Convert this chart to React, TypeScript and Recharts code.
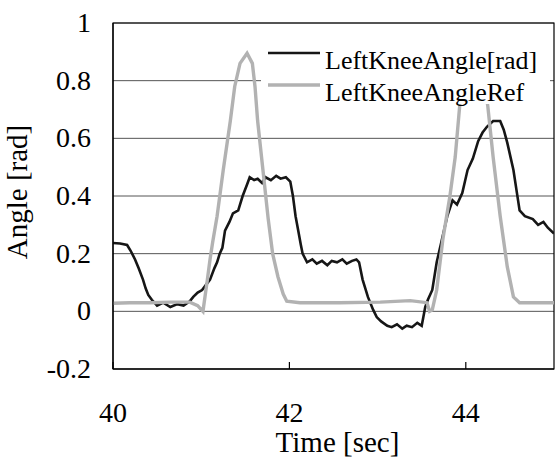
import {
  LineChart,
  Line,
  XAxis,
  YAxis,
  CartesianGrid,
  Legend,
  ReferenceArea,
  Label,
} from "recharts";

const FONT = '"Liberation Serif", "Times New Roman", serif';

// measured knee angle [rad] vs time [sec]
const actualTime = [
  40.0, 40.08, 40.16, 40.2, 40.25, 40.29, 40.34, 40.37, 40.4, 40.44, 40.5, 40.57,
  40.65, 40.73, 40.8, 40.87, 40.91, 40.96, 41.01, 41.05, 41.1, 41.15, 41.18, 41.21,
  41.24, 41.27, 41.32, 41.36, 41.42, 41.47, 41.52, 41.55, 41.6, 41.64, 41.69, 41.73,
  41.79, 41.85, 41.9, 41.96, 42.01, 42.04, 42.07, 42.1, 42.13, 42.15, 42.2, 42.26,
  42.31, 42.37, 42.43, 42.48, 42.54, 42.6, 42.65, 42.71, 42.76, 42.79, 42.83, 42.89,
  42.95, 42.99, 43.04, 43.11, 43.16, 43.22, 43.28, 43.33, 43.39, 43.45, 43.5, 43.54,
  43.57, 43.62, 43.67, 43.73, 43.79, 43.85, 43.9, 43.96, 44.02, 44.08, 44.14, 44.19,
  44.24, 44.31, 44.39, 44.43, 44.47, 44.54, 44.58, 44.61, 44.67, 44.76, 44.82, 44.88,
  44.93, 45.0,
];
const actualAngle = [
  0.237, 0.235, 0.23, 0.21, 0.18, 0.15, 0.11, 0.08, 0.057, 0.04, 0.02, 0.03,
  0.015, 0.025, 0.02, 0.035, 0.05, 0.065, 0.074, 0.09, 0.11, 0.15, 0.17, 0.2,
  0.22, 0.28, 0.31, 0.34, 0.35, 0.4, 0.44, 0.465, 0.455, 0.46, 0.445, 0.465,
  0.455, 0.47, 0.46, 0.465, 0.45, 0.4, 0.33, 0.28, 0.23, 0.2, 0.17, 0.18,
  0.165, 0.175, 0.16, 0.175, 0.17, 0.18, 0.165, 0.175, 0.18, 0.17, 0.11, 0.05,
  0.005, -0.02, -0.035, -0.05, -0.055, -0.045, -0.06, -0.05, -0.055, -0.04, -0.05, 0.015,
  0.04, 0.074, 0.17, 0.25, 0.33, 0.385, 0.37, 0.41, 0.49, 0.53, 0.59, 0.62,
  0.64, 0.66, 0.66, 0.63, 0.585, 0.49, 0.41, 0.35, 0.33, 0.32, 0.3, 0.31,
  0.29, 0.27,
];

// reference knee angle
const refTime = [
  40.0, 40.19, 40.42, 40.65, 40.87, 40.96, 41.02, 41.07, 41.1, 41.13, 41.18, 41.25,
  41.33, 41.38, 41.44, 41.52, 41.58, 41.61, 41.64, 41.7, 41.76, 41.81, 41.87, 41.93,
  41.97, 42.12, 42.57, 43.03, 43.37, 43.56, 43.59, 43.62, 43.67, 43.74, 43.82, 43.88,
  43.93, 43.99, 44.03, 44.09, 44.15, 44.21, 44.25, 44.31, 44.39, 44.47, 44.54, 44.61,
  45.0,
];
const refAngle = [
  0.028, 0.03, 0.03, 0.032, 0.032, 0.02, 0.0, 0.11, 0.18, 0.24, 0.33, 0.49,
  0.66, 0.78, 0.86, 0.895, 0.86, 0.78, 0.66, 0.49, 0.32, 0.2, 0.12, 0.06,
  0.035, 0.03, 0.03, 0.032, 0.037, 0.03, 0.0, 0.005, 0.074, 0.25, 0.4, 0.535,
  0.71, 0.83, 0.88, 0.895, 0.87, 0.8, 0.71, 0.535, 0.33, 0.155, 0.05, 0.03,
  0.03,
];

const xTicks = [40, 42, 44];
const yTicks = [-0.2, 0, 0.2, 0.4, 0.6, 0.8, 1];
const seriesNames = ["LeftKneeAngle[rad]", "LeftKneeAngleRef"];
const seriesColors = ["#161616", "#b2b2b2"];
const seriesWidths = [2.6, 3.4];

const actualData = actualTime.map((t, i) => ({ t, v: actualAngle[i] }));
const refData = refTime.map((t, i) => ({ t, v: refAngle[i] }));

function TimeTick({ x, y, payload }: any) {
  return (
    <g>
      <line x1={x} x2={x} y1={y} y2={y - 7} stroke="#000" strokeWidth={1.2} />
      <text
        x={x}
        y={y + 53}
        textAnchor="middle"
        fontSize={28}
        fontFamily={FONT}
        fill="#000"
      >
        {payload.value}
      </text>
    </g>
  );
}

function AngleTick({ y, payload }: any) {
  return (
    <text
      x={91}
      y={y + 9}
      textAnchor="end"
      fontSize={28}
      fontFamily={FONT}
      fill="#000"
    >
      {String(payload.value)}
    </text>
  );
}

// legend sits inside the plot on a white box that hides the curves behind it
function KneeLegend() {
  return (
    <svg width={291} height={78} style={{ display: "block", overflow: "visible" }}>
      <rect x={0} y={0} width={289} height={70} fill="#fff" />
      {seriesNames.map((name, i) => (
        <g key={name}>
          <line
            x1={7}
            x2={59}
            y1={19 + i * 32}
            y2={19 + i * 32}
            stroke={seriesColors[i]}
            strokeWidth={seriesWidths[i]}
          />
          <text x={64} y={35 + i * 32} fontSize={26} fontFamily={FONT} fill="#000">
            {name}
          </text>
        </g>
      ))}
    </svg>
  );
}

export default function App() {
  return (
    <div style={{ position: "absolute", left: 0, top: 0, background: "#fff" }}>
      <LineChart
        width={556}
        height={459}
        margin={{ top: 23, right: 2, bottom: 0, left: 0 }}
      >
        <CartesianGrid vertical={false} stroke="#555" strokeWidth={1} />
        <XAxis
          type="number"
          dataKey="t"
          domain={[40, 45]}
          ticks={xTicks}
          allowDataOverflow
          height={90}
          axisLine={{ stroke: "#000", strokeWidth: 1.2 }}
          tickLine={false}
          tickSize={0}
          tickMargin={0}
          tick={<TimeTick />}
        >
          <Label
            content={({ viewBox }: any) => (
              <text
                x={viewBox.x + viewBox.width / 2 + 4}
                y={452}
                textAnchor="middle"
                fontSize={29}
                fontFamily={FONT}
                fill="#000"
              >
                Time [sec]
              </text>
            )}
          />
        </XAxis>
        <YAxis
          type="number"
          domain={[-0.2, 1]}
          ticks={yTicks}
          allowDataOverflow
          width={113}
          axisLine={{ stroke: "#000", strokeWidth: 1.2 }}
          tickLine={false}
          tickSize={0}
          tickMargin={0}
          tick={<AngleTick />}
        >
          <Label
            content={({ viewBox }: any) => {
              const cy = viewBox.y + viewBox.height / 2 - 4;
              return (
                <text
                  x={27}
                  y={cy}
                  transform={`rotate(-90, 27, ${cy})`}
                  textAnchor="middle"
                  fontSize={29}
                  fontFamily={FONT}
                  fill="#000"
                >
                  Angle [rad]
                </text>
              );
            }}
          />
        </YAxis>
        <ReferenceArea
          x1={40}
          x2={45}
          y1={-0.2}
          y2={1}
          fill="none"
          stroke="#000"
          strokeWidth={1.2}
          ifOverflow="visible"
        />
        <Line
          data={actualData}
          dataKey="v"
          name={seriesNames[0]}
          type="linear"
          stroke={seriesColors[0]}
          strokeWidth={seriesWidths[0]}
          dot={false}
          isAnimationActive={false}
        />
        <Line
          data={refData}
          dataKey="v"
          name={seriesNames[1]}
          type="linear"
          stroke={seriesColors[1]}
          strokeWidth={seriesWidths[1]}
          dot={false}
          isAnimationActive={false}
        />
        <Legend
          layout="vertical"
          align="center"
          verticalAlign="middle"
          content={<KneeLegend />}
          wrapperStyle={{ left: 261, top: 34, width: 291, height: 70 }}
        />
      </LineChart>
    </div>
  );
}
